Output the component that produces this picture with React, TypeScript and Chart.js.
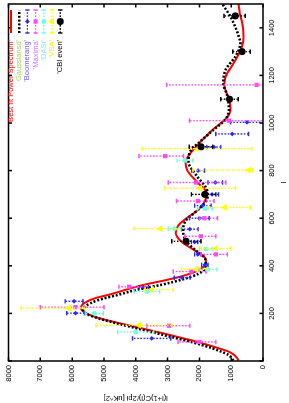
import React, { useEffect, useRef } from "react";
import { Chart, registerables } from "chart.js";
Chart.register(...registerables);

// ---------- data ----------
const bestFitL = [2, 11, 25, 39, 60, 80, 100, 120, 140, 160, 180, 200, 222, 245, 265, 280, 300, 320, 340, 360, 380, 400, 420, 440, 465, 500, 538, 570, 600, 640, 683, 705, 753, 800, 836, 870, 919, 975, 1023, 1058, 1100, 1160, 1197, 1252, 1322, 1363, 1420, 1460, 1500];
const bestFitV = [770, 810, 900, 1070, 1550, 2050, 2650, 3250, 3900, 4550, 5150, 5550, 5730, 5600, 5250, 4800, 4300, 3750, 3050, 2450, 2050, 1850, 1790, 1860, 2150, 2550, 2740, 2660, 2400, 2000, 1790, 1770, 2080, 2380, 2440, 2300, 1980, 1550, 1130, 1020, 1070, 1220, 1170, 920, 660, 610, 650, 730, 770];

const gaussL = [2, 25, 53, 80, 100, 120, 140, 160, 185, 210, 230, 255, 280, 300, 320, 344, 365, 392, 420, 440, 461, 503, 545, 587, 620, 650, 690, 725, 781, 836, 878, 919, 968, 1016, 1058, 1114, 1168, 1224, 1280, 1335, 1363, 1446, 1500];
const gaussV = [930, 1080, 1585, 2250, 2850, 3450, 4050, 4650, 5300, 5650, 5580, 5200, 4500, 3950, 3200, 2500, 2050, 1820, 1800, 1880, 2080, 2410, 2510, 2440, 2180, 1930, 1740, 1780, 2100, 2340, 2300, 2000, 1585, 1175, 1070, 1120, 1250, 1175, 865, 710, 760, 1020, 1276];

const boomL = [95, 201, 251, 310, 350, 404, 448, 500, 554, 600, 653, 700, 750, 800, 899, 954, 1003];
const boomV = [3500, 5890, 5940, 3750, 2540, 1830, 2050, 2150, 2300, 2000, 1890, 1600, 1500, 2040, 1545, 970, 500];
const boomLo = [2900, 5610, 5660, 3600, 2290, 1730, 1950, 2050, 2040, 1690, 1630, 1400, 1270, 1840, 1325, 455, -20];
const boomHi = [4100, 6170, 6220, 3900, 2790, 1930, 2150, 2250, 2560, 2310, 2150, 1800, 1730, 2240, 1765, 1485, 1020];

const maxL = [80, 148, 226, 312, 376, 448, 524, 600, 672, 750, 861, 1010, 1160];
const maxV = [2000, 2950, 5900, 4210, 2250, 1480, 1950, 1845, 2050, 2100, 3080, 1070, 200];
const maxLo = [1480, 2300, 5000, 3700, 1790, 1120, 1480, 1430, 1540, 1170, 2500, -170, -2630];
const maxHi = [2670, 3650, 7000, 4530, 2820, 1950, 2460, 2000, 2720, 2980, 3900, 2310, 3030];

const dasiL = [122, 200, 292, 385, 470, 556, 640, 843];
const dasiV = [4000, 5300, 3650, 1730, 1800, 2780, 1820, 2450];
const dasiLo = [3430, 5020, 3250, 1450, 1600, 2580, 1590, 2200];
const dasiHi = [4570, 5580, 4050, 2010, 2000, 2980, 2050, 2700];

const vsaL = [150, 222, 300, 386, 473, 556, 645, 726, 802, 892];
const vsaV = [3900, 6100, 3490, 2100, 1480, 3230, 1200, 1980, 450, 2070];
const vsaLo = [2870, 5600, 2820, 1740, 1020, 2620, 400, 860, 340, 350];
const vsaHi = [5250, 7600, 3710, 2560, 1950, 4060, 1740, 3080, 2200, 3800];

const cbiL = [503, 700, 900, 1100, 1300, 1450];
const cbiV = [2420, 1830, 1950, 1050, 660, 870];
const cbiLo = [1950, 1480, 1585, 780, 400, 556];
const cbiHi = [2870, 2250, 2318, 1330, 950, 1225];

const lTicks = [0, 200, 400, 600, 800, 1000, 1200, 1400];
const vTicks = [0, 1000, 2000, 3000, 4000, 5000, 6000, 7000, 8000];

const seriesNames = ["Best fit Power Spectrum'", "Gaussiansd'", "'Boomerang'", "'Maxima'", "'DASI'", "'VSA'", "'CBI even'"];
const textColors = ["#ff0000", "#9ada66", "#6a5cff", "#dc78ff", "#86eee2", "#eeee10", "#000000"];
const xTitle = "l";
const yTitle = "l(l+1)C(l)/2pi [uK^2]";

const FONT = '"Liberation Sans", Arial, sans-serif';

const pts = (xs: number[], ys: number[]) => xs.map((x, i) => ({ x, y: ys[i] }));

function drawMarker(ctx: CanvasRenderingContext2D, style: string, x: number, y: number, r: number, color: string) {
  ctx.fillStyle = color;
  ctx.beginPath();
  if (style === "circle") {
    ctx.arc(x, y, r, 0, Math.PI * 2);
  } else if (style === "rect") {
    const s = r * Math.SQRT1_2;
    ctx.rect(x - s, y - s, 2 * s, 2 * s);
  } else if (style === "rectRot") {
    ctx.moveTo(x, y - r); ctx.lineTo(x + r, y); ctx.lineTo(x, y + r); ctx.lineTo(x - r, y); ctx.closePath();
  } else if (style === "triangle") {
    for (let k = 0; k < 3; k++) {
      const a = (k * 2 * Math.PI) / 3;
      const px = x + Math.sin(a) * r, py = y - Math.cos(a) * r;
      if (k === 0) ctx.moveTo(px, py); else ctx.lineTo(px, py);
    }
    ctx.closePath();
  }
  ctx.fill();
}

const errorBarPlugin = {
  id: "gpErrorBars",
  beforeDatasetDraw(chart: any, args: any) {
    const ds = chart.data.datasets[args.index];
    if (!ds.errLo) return;
    const { ctx, chartArea: a, scales } = chart;
    const x = scales.x, y = scales.y;
    ctx.save();
    ctx.beginPath();
    ctx.rect(a.left, a.top, a.right - a.left, a.bottom - a.top);
    ctx.clip();
    ctx.strokeStyle = ds.borderColor;
    ctx.lineWidth = 1.4;
    ds.data.forEach((p: any, i: number) => {
      const px = x.getPixelForValue(p.x);
      const y1 = y.getPixelForValue(ds.errLo[i]);
      const y2 = y.getPixelForValue(ds.errHi[i]);
      ctx.setLineDash([1.6, 1.6]);
      ctx.beginPath(); ctx.moveTo(px, y1); ctx.lineTo(px, y2); ctx.stroke();
      ctx.setLineDash([]);
      ctx.beginPath();
      ctx.moveTo(px - 2.2, y1); ctx.lineTo(px + 2.2, y1);
      ctx.moveTo(px - 2.2, y2); ctx.lineTo(px + 2.2, y2);
      ctx.stroke();
    });
    ctx.restore();
  },
};

const framePlugin = {
  id: "gpFrame",
  afterDatasetsDraw(chart: any) {
    const { ctx, chartArea: a, scales } = chart;
    const x = scales.x, y = scales.y;
    ctx.save();
    ctx.strokeStyle = "#000";
    ctx.lineWidth = 1.5;
    ctx.strokeRect(a.left, a.top, a.right - a.left, a.bottom - a.top);
    ctx.beginPath();
    lTicks.forEach((t) => {
      const px = x.getPixelForValue(t);
      ctx.moveTo(px, a.bottom); ctx.lineTo(px, a.bottom - 3.5);
      ctx.moveTo(px, a.top); ctx.lineTo(px, a.top + 3.5);
    });
    vTicks.forEach((t) => {
      const py = y.getPixelForValue(t);
      ctx.moveTo(a.left, py); ctx.lineTo(a.left + 3.5, py);
      ctx.moveTo(a.right, py); ctx.lineTo(a.right - 3.5, py);
    });
    ctx.stroke();
    ctx.restore();
  },
};

const legendPlugin = {
  id: "gpLegend",
  afterDraw(chart: any) {
    const ctx = chart.ctx as CanvasRenderingContext2D;
    ctx.save();
    ctx.font = `7.5px ${FONT}`;
    ctx.textAlign = "right";
    ctx.textBaseline = "middle";
    chart.data.datasets.forEach((ds: any, i: number) => {
      const yy = 11 + i * 8.2;
      ctx.fillStyle = textColors[i];
      ctx.fillText(seriesNames[i], 363, yy);
      const x0 = 370, x1 = 393;
      ctx.strokeStyle = ds.borderColor;
      if (ds.errLo) {
        ctx.lineWidth = 1.4;
        ctx.setLineDash([1.6, 1.6]);
        ctx.beginPath(); ctx.moveTo(x0, yy); ctx.lineTo(x1, yy); ctx.stroke();
        ctx.setLineDash([]);
        ctx.beginPath();
        ctx.moveTo(x0, yy - 2.2); ctx.lineTo(x0, yy + 2.2);
        ctx.moveTo(x1, yy - 2.2); ctx.lineTo(x1, yy + 2.2);
        ctx.stroke();
        drawMarker(ctx, ds.pointStyle, (x0 + x1) / 2, yy, ds.pointRadius, ds.backgroundColor);
      } else {
        ctx.lineWidth = ds.borderWidth;
        ctx.setLineDash(ds.borderDash || []);
        ctx.beginPath(); ctx.moveTo(x0, yy); ctx.lineTo(x1, yy); ctx.stroke();
        ctx.setLineDash([]);
      }
    });
    ctx.restore();
  },
};

export default function App() {
  const ref = useRef<HTMLCanvasElement | null>(null);
  useEffect(() => {
    if (!ref.current) return;
    const errSet = (label: string, xs: number[], ys: number[], lo: number[], hi: number[], color: string, style: string, r: number, order: number) => ({
      label,
      data: pts(xs, ys),
      errLo: lo,
      errHi: hi,
      showLine: false,
      borderColor: color,
      backgroundColor: color,
      pointBackgroundColor: color,
      pointBorderColor: color,
      pointBorderWidth: 0,
      pointStyle: style,
      pointRadius: r,
      order,
    });
    const chart = new Chart(ref.current, {
      type: "scatter",
      data: {
        datasets: [
          {
            label: seriesNames[0],
            data: pts(bestFitL, bestFitV),
            showLine: true,
            borderColor: "#ff0000",
            backgroundColor: "#ff0000",
            borderWidth: 2,
            pointRadius: 0,
            cubicInterpolationMode: "monotone",
            order: 7,
          } as any,
          {
            label: seriesNames[1],
            data: pts(gaussL, gaussV),
            showLine: true,
            borderColor: "#000000",
            backgroundColor: "#000000",
            borderWidth: 2.6,
            borderDash: [2, 1.8],
            pointRadius: 0,
            cubicInterpolationMode: "monotone",
            order: 6,
          } as any,
          errSet(seriesNames[2], boomL, boomV, boomLo, boomHi, "#2a2aff", "rectRot", 2.4, 5) as any,
          errSet(seriesNames[3], maxL, maxV, maxLo, maxHi, "#ff48ff", "rect", 3, 4) as any,
          errSet(seriesNames[4], dasiL, dasiV, dasiLo, dasiHi, "#6affe4", "circle", 2.4, 3) as any,
          errSet(seriesNames[5], vsaL, vsaV, vsaLo, vsaHi, "#ffff00", "triangle", 4, 2) as any,
          errSet(seriesNames[6], cbiL, cbiV, cbiLo, cbiHi, "#000000", "circle", 3.5, 1) as any,
        ],
      },
      options: {
        responsive: false,
        devicePixelRatio: 1,
        animation: false,
        events: [],
        layout: { padding: { top: 3.5, right: 0.5, left: 0, bottom: 0 } },
        font: { family: FONT },
        plugins: { legend: { display: false }, tooltip: { enabled: false } },
        scales: {
          x: {
            type: "linear",
            min: 0,
            max: 1500,
            afterFit: (s: any) => { s.height = 26; },
            grid: { display: false, drawTicks: false },
            border: { display: false },
            ticks: {
              stepSize: 200,
              includeBounds: false,
              autoSkip: false,
              maxRotation: 0,
              minRotation: 0,
              padding: 4.5,
              color: "#000",
              font: { family: FONT, size: 7.5 },
              callback: (v: any) => (v === 0 ? "" : String(v)),
            },
            title: { display: true, text: xTitle, color: "#000", font: { family: FONT, size: 8 }, padding: 0 },
          },
          y: {
            type: "linear",
            min: 0,
            max: 8000,
            afterFit: (s: any) => { s.width = 42; },
            grid: { display: false, drawTicks: false },
            border: { display: false },
            ticks: {
              stepSize: 1000,
              autoSkip: false,
              padding: 4,
              color: "#000",
              font: { family: FONT, size: 7.5 },
              callback: (v: any) => String(v),
            },
            title: { display: true, text: yTitle, color: "#000", font: { family: FONT, size: 7.5 }, padding: { top: 0.5, bottom: 0 } },
          },
        },
      } as any,
      plugins: [errorBarPlugin, framePlugin, legendPlugin],
    });
    return () => chart.destroy();
  }, []);

  return (
    <div
      style={{
        position: "fixed",
        left: -57,
        top: 57,
        width: 403,
        height: 289,
        transform: "rotate(-90deg)",
        background: "#fff",
      }}
    >
      <canvas ref={ref} width={403} height={289} style={{ width: 403, height: 289, display: "block" }} />
    </div>
  );
}
